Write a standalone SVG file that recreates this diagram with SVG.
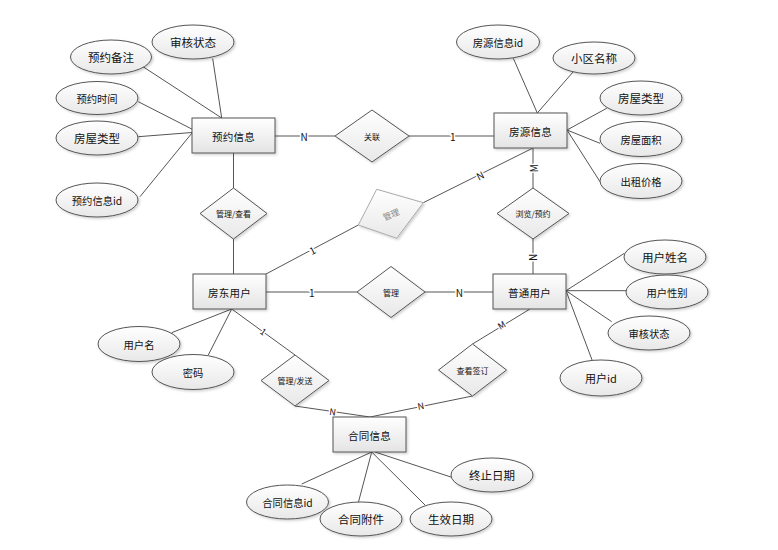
<svg xmlns="http://www.w3.org/2000/svg" width="778" height="550" viewBox="0 0 778 550">
<defs>
<linearGradient id="gr" x1="0" y1="0" x2="0" y2="1">
<stop offset="0" stop-color="#ffffff"/>
<stop offset="1" stop-color="#e4e4e4"/>
</linearGradient>
<linearGradient id="ge" x1="0" y1="0" x2="0" y2="1">
<stop offset="0" stop-color="#ffffff"/>
<stop offset="1" stop-color="#e8e8e8"/>
</linearGradient>
<filter id="sh" x="-20%" y="-20%" width="150%" height="160%">
<feDropShadow dx="1.5" dy="1.5" stdDeviation="1" flood-color="#000" flood-opacity="0.18"/>
</filter>
</defs>
<style>
text{font-family:"Noto Sans CJK SC","Liberation Sans",sans-serif;fill:#111;text-anchor:middle;dominant-baseline:central}
.ent rect{fill:url(#gr);stroke:#555;stroke-width:1;filter:url(#sh)}
.ent text{font-size:10.5px;letter-spacing:0.3px}
.att ellipse{fill:url(#ge);stroke:#555;stroke-width:1;filter:url(#sh)}
.att text{font-size:10.3px}
.att text.big{font-size:11.5px}
.rel polygon{fill:url(#ge);stroke:#555;stroke-width:1;filter:url(#sh)}
.rel text{font-size:8px}
.conn line{stroke:#555;stroke-width:1}
.card{font-size:10px;fill:#111;stroke:#fff;stroke-width:3;paint-order:stroke}
</style>
<rect width="778" height="550" fill="#fff"/>

<g id="connectors" class="conn">
<line x1="275" y1="136" x2="335" y2="136"/>
<line x1="409" y1="136" x2="494" y2="136"/>
<line x1="233.5" y1="153" x2="233.5" y2="188"/>
<line x1="233.5" y1="239" x2="233.5" y2="274"/>
<line x1="266" y1="292" x2="357" y2="292"/>
<line x1="425" y1="292" x2="493" y2="292"/>
<line x1="266" y1="274" x2="358.3" y2="225"/>
<line x1="423.3" y1="202.7" x2="533" y2="148"/>
<line x1="533" y1="148" x2="533" y2="188"/>
<line x1="533" y1="239" x2="533" y2="274"/>
<line x1="530" y1="309" x2="472.5" y2="344"/>
<line x1="472.5" y1="396" x2="370" y2="417"/>
<line x1="231.7" y1="309" x2="295" y2="355"/>
<line x1="295" y1="406" x2="370" y2="417"/>
<!-- attribute lines -->
<line x1="212.7" y1="58.5" x2="221.7" y2="118"/>
<line x1="143" y1="66.7" x2="221.7" y2="118"/>
<line x1="138.3" y1="101.7" x2="192.3" y2="129.3"/>
<line x1="138.3" y1="136.7" x2="192" y2="132.5"/>
<line x1="140" y1="196.7" x2="192" y2="133"/>
<line x1="513.3" y1="58.3" x2="537.3" y2="113"/>
<line x1="573.3" y1="71.7" x2="537.3" y2="113"/>
<line x1="606.7" y1="108.3" x2="567" y2="130"/>
<line x1="600" y1="143.3" x2="567" y2="130"/>
<line x1="600" y1="181.7" x2="567" y2="130"/>
<line x1="566" y1="290.7" x2="624.3" y2="253.3"/>
<line x1="566" y1="290.7" x2="626" y2="290.7"/>
<line x1="566" y1="290.7" x2="611.7" y2="321.7"/>
<line x1="566" y1="290.7" x2="592.7" y2="361.7"/>
<line x1="171.7" y1="332.7" x2="231.7" y2="309"/>
<line x1="208.3" y1="355" x2="231.7" y2="309"/>
<line x1="371.7" y1="452" x2="301.7" y2="484"/>
<line x1="371.7" y1="452" x2="358.3" y2="502.7"/>
<line x1="371.7" y1="452" x2="425" y2="505"/>
<line x1="375" y1="452" x2="451.7" y2="477.3"/>
<text class="card" x="304" y="136">N</text>
<text class="card" x="452.7" y="136">1</text>
<text class="card" x="311.7" y="292">1</text>
<text class="card" x="459.3" y="292">N</text>
<text class="card" transform="translate(312,250) rotate(-28)">1</text>
<text class="card" transform="translate(480,175) rotate(-27)">N</text>
<text class="card" transform="translate(533.3,168.3) rotate(-90)">M</text>
<text class="card" transform="translate(533.3,257.3) rotate(90)">N</text>
<text class="card" transform="translate(501.7,325) rotate(-31)" style="font-size:9px">M</text>
<text class="card" transform="translate(263.3,331.7) rotate(36)" style="font-size:9px">1</text>
<text class="card" transform="translate(332.7,411.7) rotate(8)" style="font-size:9px">N</text>
<text class="card" transform="translate(420.7,406) rotate(-11)" style="font-size:9px">N</text>
</g>

<g id="rel-guanlian" class="rel"><polygon points="372,110 409,136 372,162 335,136"/><text x="372" y="136">关联</text></g>
<g id="rel-guanli-chakan" class="rel"><polygon points="233.5,188 267,213.5 233.5,239 200,213.5"/><text x="233.5" y="213.5">管理/查看</text></g>
<g id="rel-guanli-gray" class="rel"><polygon points="376.7,189.3 423.3,202.7 396.7,238.3 358.3,225" style="stroke:#aaa"/><text transform="translate(390.8,213.8) rotate(-22)" style="fill:#888;font-size:8.5px">管理</text></g>
<g id="rel-guanli" class="rel"><polygon points="391,266.5 425,292 391,317.5 357,292"/><text x="391" y="292">管理</text></g>
<g id="rel-liulan" class="rel"><polygon points="533,188 569,213.5 533,239 497,213.5"/><text x="533" y="213.5">浏览/预约</text></g>
<g id="rel-qianding" class="rel"><polygon points="472.5,344 506.5,370 472.5,396 438.5,370"/><text x="472.5" y="370">查看签订</text></g>
<g id="rel-fasong" class="rel"><polygon points="295,355 329,380.5 295,406 261,380.5"/><text x="295" y="380.5">管理/发送</text></g>

<g id="ent-yuyue" class="ent"><rect x="192" y="118" width="83" height="35"/><text x="233.5" y="136">预约信息</text></g>
<g id="ent-fangyuan" class="ent"><rect x="494" y="113" width="73" height="35"/><text x="530.5" y="131">房源信息</text></g>
<g id="ent-fangdong" class="ent"><rect x="193" y="274" width="73" height="35"/><text x="229.5" y="292">房东用户</text></g>
<g id="ent-putong" class="ent"><rect x="493" y="274" width="73" height="35"/><text x="529.5" y="292">普通用户</text></g>
<g id="ent-hetong" class="ent"><rect x="333" y="417" width="73" height="35"/><text x="369.5" y="435">合同信息</text></g>

<g id="att-shenhe1" class="att"><ellipse cx="193" cy="42" rx="41" ry="17"/><text class="big" x="193" y="42">审核状态</text></g>
<g id="att-beizhu" class="att"><ellipse cx="111" cy="57" rx="40.5" ry="17"/><text class="big" x="111" y="57">预约备注</text></g>
<g id="att-shijian" class="att"><ellipse cx="97" cy="98" rx="41" ry="16.5"/><text x="97" y="98">预约时间</text></g>
<g id="att-leixing1" class="att"><ellipse cx="97" cy="138" rx="41" ry="17"/><text class="big" x="97" y="138">房屋类型</text></g>
<g id="att-yuyueid" class="att"><ellipse cx="97" cy="200" rx="41" ry="17"/><text x="97" y="200">预约信息id</text></g>
<g id="att-fangyuanid" class="att"><ellipse cx="498" cy="42" rx="41.5" ry="17"/><text x="498" y="42">房源信息id</text></g>
<g id="att-xiaoqu" class="att"><ellipse cx="594" cy="58" rx="41" ry="16"/><text class="big" x="594" y="58">小区名称</text></g>
<g id="att-leixing2" class="att"><ellipse cx="641" cy="98" rx="41" ry="17"/><text class="big" x="641" y="98">房屋类型</text></g>
<g id="att-mianji" class="att"><ellipse cx="641" cy="139" rx="41" ry="17.5"/><text x="641" y="139">房屋面积</text></g>
<g id="att-jiage" class="att"><ellipse cx="641" cy="181" rx="41" ry="17.5"/><text x="641" y="181">出租价格</text></g>
<g id="att-xingming" class="att"><ellipse cx="665" cy="257" rx="41" ry="17"/><text class="big" x="665" y="257">用户姓名</text></g>
<g id="att-xingbie" class="att"><ellipse cx="667" cy="292" rx="41" ry="17"/><text x="667" y="292">用户性别</text></g>
<g id="att-shenhe2" class="att"><ellipse cx="649" cy="333" rx="41" ry="17"/><text x="649" y="333">审核状态</text></g>
<g id="att-yonghuid" class="att"><ellipse cx="601" cy="378" rx="41" ry="18"/><text x="601" y="378" style="font-size:11px">用户id</text></g>
<g id="att-yonghuming" class="att"><ellipse cx="139" cy="344" rx="41" ry="17.5"/><text x="139" y="344">用户名</text></g>
<g id="att-mima" class="att"><ellipse cx="193" cy="372" rx="41" ry="17.5"/><text x="193" y="372">密码</text></g>
<g id="att-hetongid" class="att"><ellipse cx="287.5" cy="502" rx="41" ry="17"/><text x="287.5" y="502">合同信息id</text></g>
<g id="att-fujian" class="att"><ellipse cx="361" cy="519" rx="41" ry="17"/><text class="big" x="361" y="519">合同附件</text></g>
<g id="att-shengxiao" class="att"><ellipse cx="451" cy="519" rx="41" ry="17"/><text class="big" x="451" y="519">生效日期</text></g>
<g id="att-zhongzhi" class="att"><ellipse cx="492" cy="475" rx="41" ry="17"/><text class="big" x="492" y="475">终止日期</text></g>
</svg>
